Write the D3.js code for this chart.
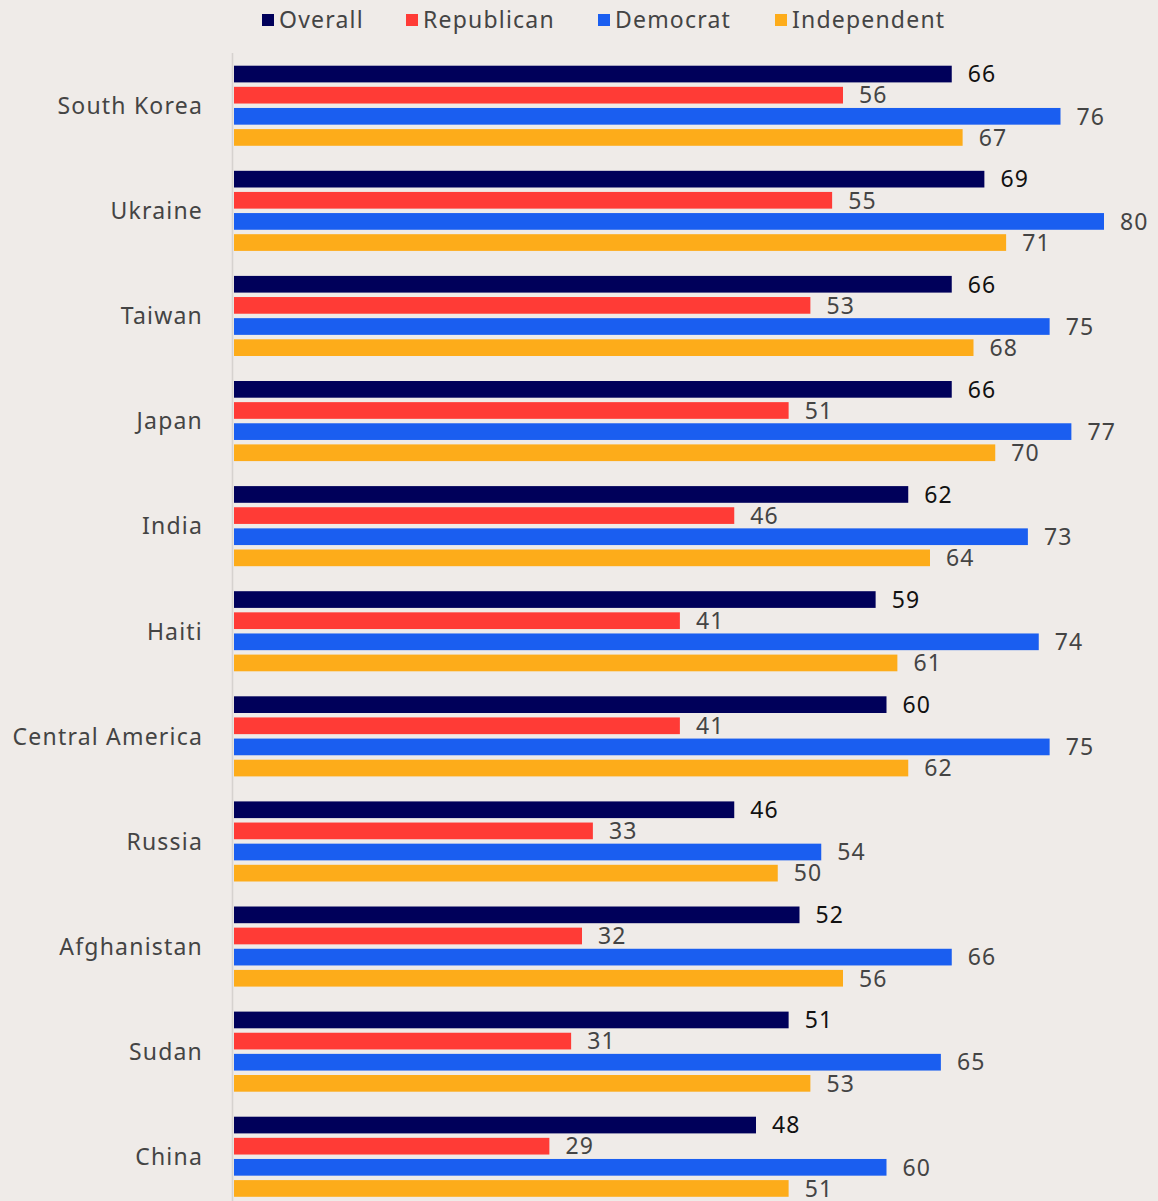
<!DOCTYPE html>
<html><head><meta charset="utf-8">
<script src="https://cdn.jsdelivr.net/npm/d3@7"></script>
<style>
html,body{margin:0;padding:0;background:#efebe8;}
svg{display:block;}
text{font-family:"Noto Sans",Lato,sans-serif;letter-spacing:1.2px;}
</style></head>
<body>
<div id="chart"></div>
<script>
const categories = ["South Korea","Ukraine","Taiwan","Japan","India","Haiti","Central America","Russia","Afghanistan","Sudan","China"];
const seriesNames = ["Overall","Republican","Democrat","Independent"];
const seriesColors = ["#00005a","#ff3b36","#1a5ef0","#fdac1a"];
const overall     = [66,69,66,66,62,59,60,46,52,51,48];
const republican  = [56,55,53,51,46,41,41,33,32,31,29];
const democrat    = [76,80,75,77,73,74,75,54,66,65,60];
const independent = [67,71,68,70,64,61,62,50,56,53,51];
const seriesValues = [overall, republican, democrat, independent];

const W = 1158, H = 1201;
const svg = d3.select("#chart").append("svg").attr("width", W).attr("height", H);
svg.append("rect").attr("width", W).attr("height", H).attr("fill", "#efebe8");

const x = d3.scaleLinear().domain([0, 80]).range([234, 1104]);
const y0 = d3.scaleBand().domain(categories).range([53.2, 53.2 + 105.1 * categories.length]).paddingInner(0.238).paddingOuter(0.119);
const y1 = d3.scaleBand().domain(seriesNames).range([0, y0.bandwidth()]).paddingInner(0.21);

// axis line
svg.append("line").attr("x1", 232.5).attr("x2", 232.5).attr("y1", 53).attr("y2", H)
  .attr("stroke", "#d6d2cf").attr("stroke-width", 1.6);

const g = svg.append("g");
categories.forEach((c, i) => {
  const gg = g.append("g").attr("transform", `translate(0,${y0(c)})`);
  seriesNames.forEach((s, j) => {
    const v = seriesValues[j][i];
    gg.append("rect")
      .attr("x", x(0)).attr("y", y1(s))
      .attr("width", x(v) - x(0)).attr("height", y1.bandwidth())
      .attr("fill", seriesColors[j]);
    gg.append("text")
      .attr("x", x(v) + 16).attr("y", y1(s) + y1.bandwidth() / 2)
      .attr("dy", "0.36em")
      .attr("font-size", 23)
      .attr("fill", j === 0 ? "#111" : "#444")
      .text(v);
  });
  svg.append("text")
    .attr("x", 203).attr("y", y0(c) + y0.bandwidth() / 2)
    .attr("dy", "0.36em").attr("text-anchor", "end")
    .attr("font-size", 23).attr("fill", "#444")
    .text(c);
});

// legend
const legendX = [262, 406, 598, 775];
seriesNames.forEach((s, j) => {
  svg.append("rect").attr("x", legendX[j]).attr("y", 14).attr("width", 12).attr("height", 12).attr("fill", seriesColors[j]);
  svg.append("text").attr("x", legendX[j] + 17).attr("y", 20).attr("dy", "0.36em")
    .attr("font-size", 23).attr("fill", "#444").text(s);
});
</script>
</body></html>
